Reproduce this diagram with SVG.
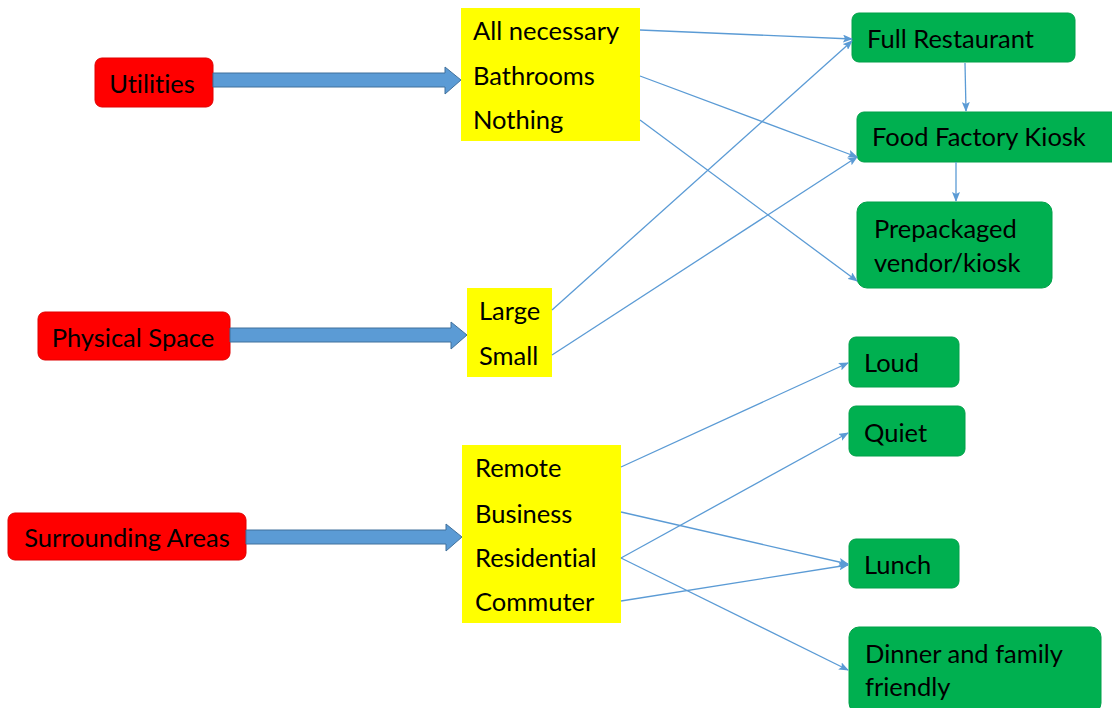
<svg xmlns="http://www.w3.org/2000/svg" width="1112" height="708" viewBox="0 0 1112 708">
<defs>
<style>
.t{font-family:Lato,"Open Sans","Liberation Sans",sans-serif;font-size:25.5px;fill:#000;font-variant-ligatures:none;font-feature-settings:"liga" 0}
.red{fill:#FF0000;stroke:#E00000;stroke-width:1}
.yel{fill:#FFFF00}
.grn{fill:#00B050;stroke:#00A048;stroke-width:1}
.big{fill:#5B9BD5;stroke:#41719C;stroke-width:1}
.ln{stroke:#5B9BD5;stroke-width:1.3;fill:none;marker-end:url(#ah)}
</style>
<marker id="ah" markerWidth="10" markerHeight="8" refX="9" refY="4" orient="auto" markerUnits="userSpaceOnUse">
<path d="M0,0 L10,4 L0,8 L2,4 Z" fill="#5B9BD5"/>
</marker>
</defs>
<rect width="1112" height="708" fill="#fff"/>

<g id="utilities">
<rect class="red" x="95" y="58" width="118" height="49" rx="7"/>
<text class="t" x="152" y="93" text-anchor="middle">Utilities</text>
</g>
<g id="physical-space">
<rect class="red" x="38" y="312" width="192" height="48" rx="7"/>
<text class="t" x="133" y="347" text-anchor="middle">Physical Space</text>
</g>
<g id="surrounding-areas">
<rect class="red" x="8" y="513" width="238" height="47" rx="7"/>
<text class="t" x="127" y="547" text-anchor="middle">Surrounding Areas</text>
</g>

<g id="utilities-options">
<rect class="yel" x="461" y="8" width="179" height="133"/>
<text class="t" x="473" y="40">All necessary</text>
<text class="t" x="473" y="85">Bathrooms</text>
<text class="t" x="473" y="129">Nothing</text>
</g>
<g id="space-options">
<rect class="yel" x="467" y="288" width="85" height="89"/>
<text class="t" x="479" y="320">Large</text>
<text class="t" x="479" y="365">Small</text>
</g>
<g id="area-options">
<rect class="yel" x="462" y="445" width="159" height="178"/>
<text class="t" x="475" y="477">Remote</text>
<text class="t" x="475" y="523">Business</text>
<text class="t" x="475" y="567">Residential</text>
<text class="t" x="475" y="611">Commuter</text>
</g>

<g id="full-restaurant">
<rect class="grn" x="852" y="13" width="223" height="49" rx="7"/>
<text class="t" x="867" y="48">Full Restaurant</text>
</g>
<g id="food-factory-kiosk">
<rect class="grn" x="857" y="112" width="262" height="50" rx="7"/>
<text class="t" x="872" y="146">Food Factory Kiosk</text>
</g>
<g id="prepackaged">
<rect class="grn" x="857" y="202" width="195" height="86" rx="10"/>
<text class="t" x="874" y="238">Prepackaged</text>
<text class="t" x="874" y="272">vendor/kiosk</text>
</g>
<g id="loud">
<rect class="grn" x="849" y="337" width="110" height="50" rx="7"/>
<text class="t" x="864" y="372">Loud</text>
</g>
<g id="quiet">
<rect class="grn" x="849" y="406" width="116" height="50" rx="7"/>
<text class="t" x="864" y="442">Quiet</text>
</g>
<g id="lunch">
<rect class="grn" x="849" y="539" width="110" height="49" rx="7"/>
<text class="t" x="864" y="574">Lunch</text>
</g>
<g id="dinner">
<rect class="grn" x="849" y="627" width="252" height="86" rx="10"/>
<text class="t" x="865" y="663">Dinner and family</text>
<text class="t" x="865" y="696">friendly</text>
</g>

<g id="connectors">
<path class="big" d="M213,73 L445,73 L445,67 L461,80 L445,94 L445,87 L213,87 Z"/>
<path class="big" d="M230,328 L451,328 L451,322 L467,335 L451,349 L451,342 L230,342 Z"/>
<path class="big" d="M246,530 L446,530 L446,524 L462,537 L446,551 L446,544 L246,544 Z"/>
<line class="ln" x1="640" y1="30" x2="852" y2="39"/>
<line class="ln" x1="640" y1="76" x2="857" y2="157"/>
<line class="ln" x1="640" y1="120" x2="857" y2="281"/>
<line class="ln" x1="552" y1="310" x2="852" y2="41"/>
<line class="ln" x1="552" y1="355" x2="857" y2="157"/>
<line class="ln" x1="965" y1="63" x2="966" y2="111"/>
<line class="ln" x1="956" y1="162" x2="956" y2="201"/>
<line class="ln" x1="621" y1="467" x2="848" y2="363"/>
<line class="ln" x1="621" y1="512" x2="848" y2="564"/>
<line class="ln" x1="621" y1="558" x2="848" y2="433"/>
<line class="ln" x1="621" y1="558" x2="848" y2="670"/>
<line class="ln" x1="621" y1="601" x2="848" y2="565"/>
</g>
</svg>
